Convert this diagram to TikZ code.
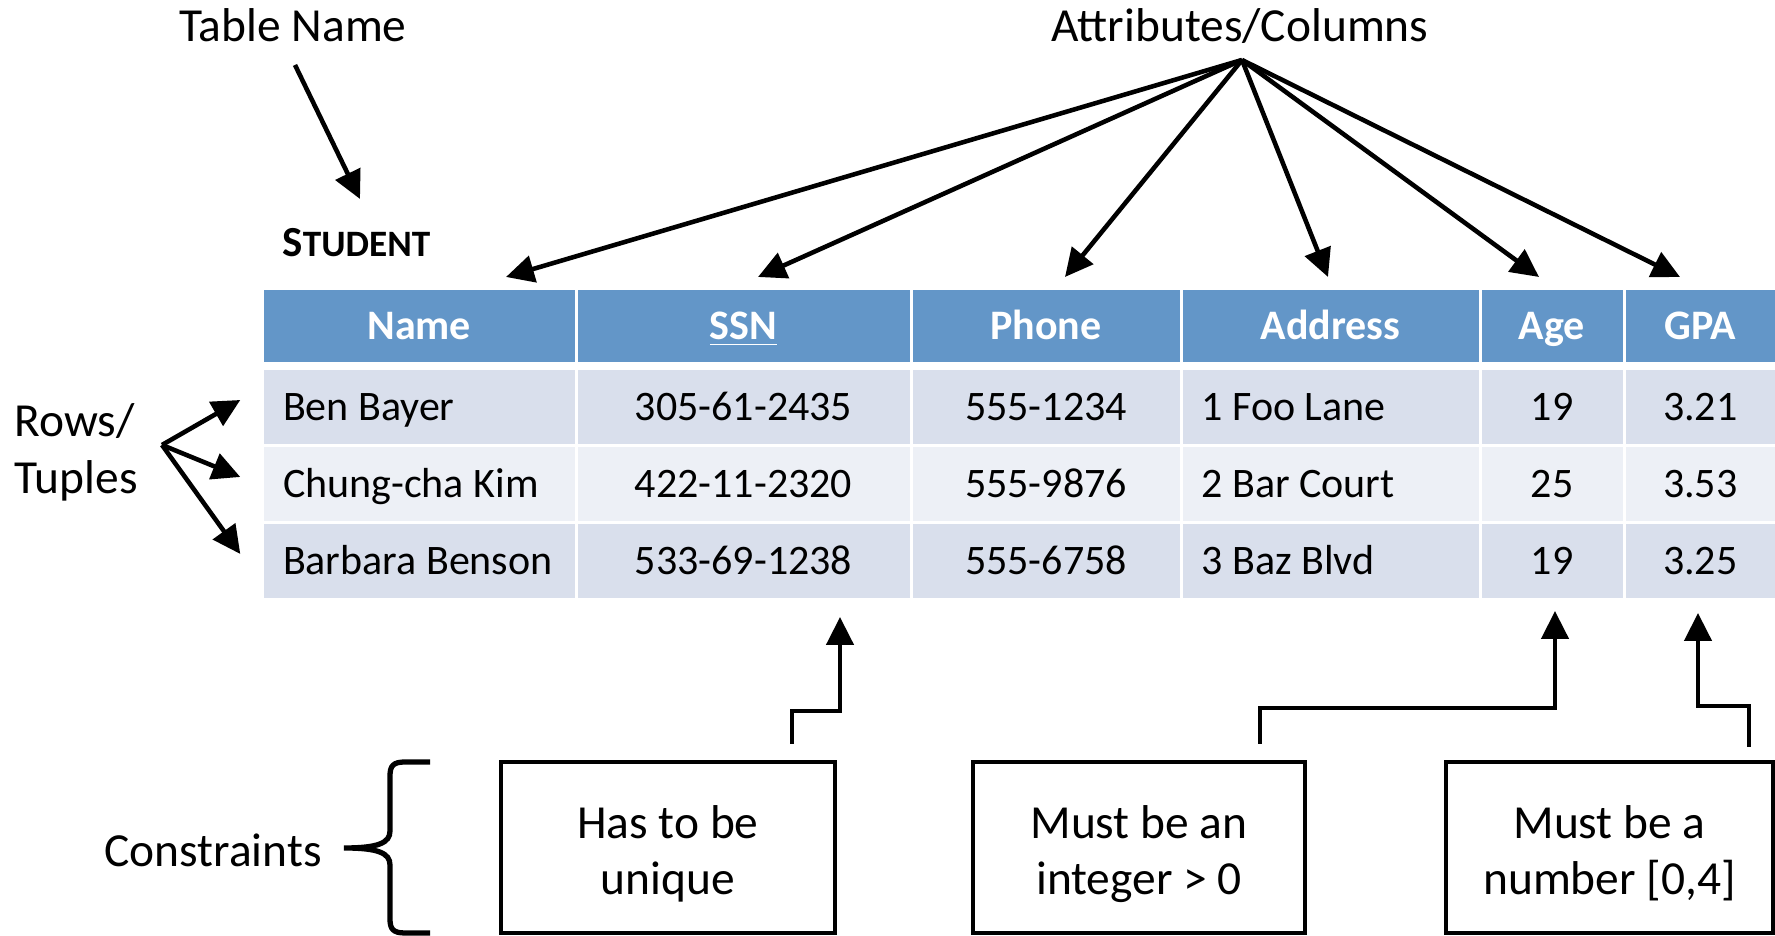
\documentclass[tikz,border=0pt]{standalone}
\usepackage{fontspec}
\setmainfont{Carlito}
\usetikzlibrary{arrows.meta}

\definecolor{hdrblue}{RGB}{99,150,200}
\definecolor{rowdark}{RGB}{217,223,236}
\definecolor{rowlight}{RGB}{237,240,246}
\newcommand{\lblfont}{\fontsize{13.5}{16.2}\selectfont}
\newcommand{\cellfont}{\fontsize{11.95}{14}\selectfont}
% left aligned cell text
\newcommand{\lcell}[2]{\makebox[#1][l]{#2}}

\tikzset{
  arr/.style={line width=1.3pt, -{Triangle[length=0.28cm,width=0.27cm]}},
  lbl/.style={font=\lblfont, inner sep=0pt},
  hcell/.style={fill=hdrblue, text=white, font=\cellfont\bfseries, inner sep=0pt,
    minimum height=0.72cm, text height=0.28cm, text depth=0.01cm},
  darkrow/.style={fill=rowdark, font=\cellfont, inner sep=0pt,
    minimum height=0.74cm, text height=0.28cm, text depth=0.01cm},
  lightrow/.style={darkrow, fill=rowlight},
  cbox/.style={draw, line width=1.3pt, minimum height=1.71cm, font=\lblfont, align=center,
    text height=1.05cm, text depth=0.10cm},
}

\begin{document}
\begin{tikzpicture}
    \useasboundingbox (0,0) rectangle (17.75,9.36);
    % labels
    \node[lbl, anchor=base] (tname) at (2.93,8.94) {Table Name};
    \node[lbl, anchor=base] (attrs) at (12.40,8.94) {Attributes/Columns};
    \node[lbl, align=left, anchor=west] (rows) at (0.14,4.84) {Rows/\\Tuples};
    \node[lbl, anchor=base] (constr) at (2.13,0.69) {Constraints};
    \node[anchor=base west, inner sep=0pt, font=\bfseries] (student) at (2.82,6.79)
        {{\fontsize{12.2}{14}\selectfont S}{\fontsize{10.6}{12}\selectfont TUDENT}};
    % header row
    \node[hcell, minimum width=3.105cm] (hName) at (4.1925,6.10) {Name};
    \node[hcell, minimum width=3.32cm] (hSSN) at (7.435,6.10) {\underline{SSN}};
    \node[hcell, minimum width=2.67cm] (hPhone) at (10.46,6.10) {Phone};
    \node[hcell, minimum width=2.96cm] (hAddr) at (13.305,6.10) {Address};
    \node[hcell, minimum width=1.41cm] (hAge) at (15.52,6.10) {Age};
    \node[hcell, minimum width=1.495cm] (hGPA) at (17.0025,6.10) {GPA};
    % tuples
    \node[darkrow, minimum width=3.105cm] (name1) at (4.1925,5.29) {\lcell{2.725cm}{Ben Bayer}};
    \node[darkrow, minimum width=3.32cm] (ssn1) at (7.435,5.29) {305-61-2435};
    \node[darkrow, minimum width=2.67cm] (phone1) at (10.46,5.29) {555-1234};
    \node[darkrow, minimum width=2.96cm] (addr1) at (13.305,5.29) {\lcell{2.58cm}{1 Foo Lane}};
    \node[darkrow, minimum width=1.41cm] (age1) at (15.52,5.29) {19};
    \node[darkrow, minimum width=1.495cm] (gpa1) at (17.0025,5.29) {3.21};
    \node[lightrow, minimum width=3.105cm] (name2) at (4.1925,4.52) {\lcell{2.725cm}{Chung-cha Kim}};
    \node[lightrow, minimum width=3.32cm] (ssn2) at (7.435,4.52) {422-11-2320};
    \node[lightrow, minimum width=2.67cm] (phone2) at (10.46,4.52) {555-9876};
    \node[lightrow, minimum width=2.96cm] (addr2) at (13.305,4.52) {\lcell{2.58cm}{2 Bar Court}};
    \node[lightrow, minimum width=1.41cm] (age2) at (15.52,4.52) {25};
    \node[lightrow, minimum width=1.495cm] (gpa2) at (17.0025,4.52) {3.53};
    \node[darkrow, minimum width=3.105cm] (name3) at (4.1925,3.75) {\lcell{2.725cm}{Barbara Benson}};
    \node[darkrow, minimum width=3.32cm] (ssn3) at (7.435,3.75) {533-69-1238};
    \node[darkrow, minimum width=2.67cm] (phone3) at (10.46,3.75) {555-6758};
    \node[darkrow, minimum width=2.96cm] (addr3) at (13.305,3.75) {\lcell{2.58cm}{3 Baz Blvd}};
    \node[darkrow, minimum width=1.41cm] (age3) at (15.52,3.75) {19};
    \node[darkrow, minimum width=1.495cm] (gpa3) at (17.0025,3.75) {3.25};
    % constraint boxes
    \node[cbox, minimum width=3.34cm] (unique) at (6.68,0.885) {Has to be\\unique};
    \node[cbox, minimum width=3.32cm] (integer) at (11.39,0.885) {Must be an\\integer > 0};
    \node[cbox, minimum width=3.27cm] (number) at (16.095,0.885) {Must be a\\number [0,4]};
    % arrow ends
    \coordinate (tnFrom) at (2.95,8.71);
    \coordinate (tnTo) at (3.60,7.37);
    \coordinate (fan) at (12.42,8.76);
    \coordinate (tName) at (5.06,6.59);
    \coordinate (tSSN) at (7.58,6.59);
    \coordinate (tPhone) at (10.65,6.59);
    \coordinate (tAddr) at (13.28,6.59);
    \coordinate (tAge) at (15.39,6.59);
    \coordinate (tGPA) at (16.80,6.59);
    \coordinate (rowFan) at (1.62,4.91);
    \coordinate (uniqFrom) at (7.92,1.92);
    \coordinate (uniqTo) at (8.40,3.19);
    \coordinate (intFrom) at (12.60,1.92);
    \coordinate (intTo) at (15.55,3.25);
    \coordinate (numFrom) at (17.49,1.89);
    \coordinate (numTo) at (16.98,3.23);
    \draw[arr] (tnFrom) -- (tnTo);
    \draw[arr] (fan) -- (tName);
    \draw[arr] (fan) -- (tSSN);
    \draw[arr] (fan) -- (tPhone);
    \draw[arr] (fan) -- (tAddr);
    \draw[arr] (fan) -- (tAge);
    \draw[arr] (fan) -- (tGPA);
    \draw[arr] (rowFan) -- ([shift={(-0.23,0.07)}]name1.west);
    \draw[arr] (rowFan) -- ([shift={(-0.23,0.07)}]name2.west);
    \draw[arr] (rowFan) -- ([shift={(-0.23,0.07)}]name3.west);
    \draw[arr] (uniqFrom) -- ++(0,0.33) -| (uniqTo);
    \draw[arr] (intFrom) -- ++(0,0.36) -| (intTo);
    \draw[arr] (numFrom) -- ++(0,0.41) -| (numTo);
    % brace
    \draw[line width=1.5pt] (4.30,1.74) -- (4.05,1.74) .. controls (3.93,1.74) and (3.90,1.70) .. (3.90,1.60)
        -- (3.90,1.05) .. controls (3.90,0.93) and (3.78,0.88) .. (3.44,0.88)
        .. controls (3.78,0.88) and (3.90,0.83) .. (3.90,0.71)
        -- (3.90,0.17) .. controls (3.90,0.07) and (3.93,0.03) .. (4.05,0.03) -- (4.30,0.03);
\end{tikzpicture}
\end{document}
